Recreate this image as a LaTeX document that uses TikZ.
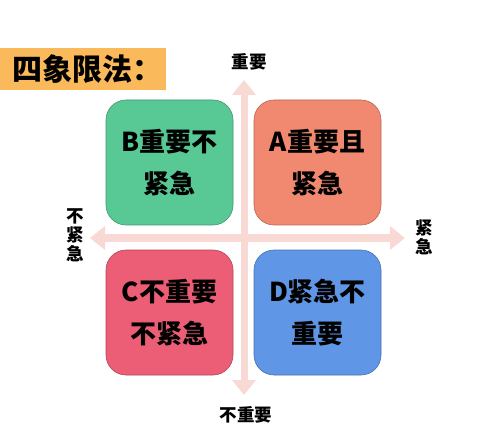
\documentclass[tikz,border=0pt]{standalone}
\usepackage{fontspec}
\newfontfamily\cjk{Noto Sans CJK SC}
\usetikzlibrary{arrows.meta}
\definecolor{titlebg}{RGB}{250,185,90}
\definecolor{axiscol}{RGB}{249,217,211}
\definecolor{qgreen}{RGB}{88,200,148}
\definecolor{qsalmon}{RGB}{241,137,112}
\definecolor{qred}{RGB}{236,94,118}
\definecolor{qblue}{RGB}{96,150,230}
\tikzset{
  quad/.style={draw=#1!75!black, line width=0.6pt, fill=#1, rounded corners=20pt,
    minimum width=127pt, minimum height=125pt, inner sep=0pt, align=center,
    font=\cjk\bfseries\fontsize{26}{42}\selectfont, text=black},
  axislabel/.style={font=\cjk\bfseries\fontsize{17.5}{19}\selectfont, align=center, inner sep=0pt},
  axis/.style={draw=axiscol, line width=7pt,
    {Triangle[width=23pt,length=15pt]}-{Triangle[width=23pt,length=15pt]}}
}
\begin{document}
\begin{tikzpicture}[x=1pt,y=-1pt]
\useasboundingbox (0,0) rectangle (500,438);
% axes
\coordinate (top) at (244,80);
\coordinate (bottom) at (244,395);
\coordinate (left) at (90,238);
\coordinate (right) at (405,238);
\draw[axis] (left) -- (right);
\draw[axis] (bottom) -- (top);
% quadrants
\node[quad=qgreen] (B) at (169.5,162.5) {B重要不\\紧急};
\node[quad=qsalmon] (A) at (317.5,162.5) {A重要且\\紧急};
\node[quad=qred] (C) at (169.5,312.5) {C不重要\\不紧急};
\node[quad=qblue] (D) at (317.5,312.5) {D紧急不\\重要};
% labels
\node[axislabel] (lt) at (249,62) {重要};
\node[axislabel] (lb) at (246,415) {不重要};
\node[axislabel] (ll) at (75,235) {不\\紧\\急};
\node[axislabel] (lr) at (424,237) {紧\\急};
% title
\node[fill=titlebg, anchor=north west, inner sep=0pt, minimum height=42pt,
  text width=166pt, align=left, font=\cjk\bfseries\fontsize{30}{32}\selectfont]
  (title) at (0,48) {\hspace*{12pt}四象限法：};
\end{tikzpicture}
\end{document}
